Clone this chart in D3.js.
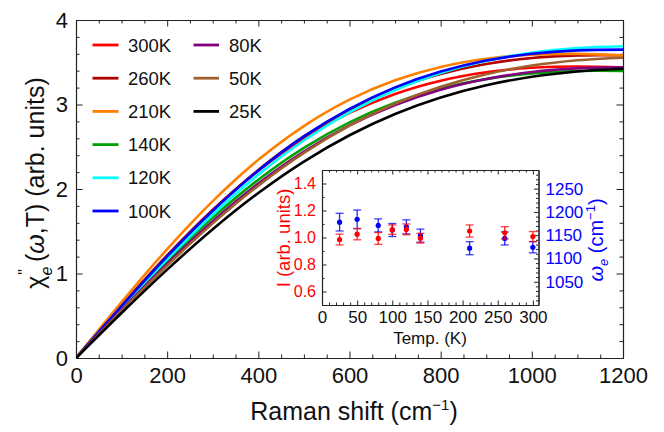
<!DOCTYPE html>
<html>
<head>
<meta charset="utf-8">
<script src="https://cdn.jsdelivr.net/npm/d3@7"></script>
<style>
  html, body { margin: 0; padding: 0; background: #fff; }
  svg { display: block; }
  text { font-family: "Liberation Sans", Arial, Helvetica, sans-serif; }
</style>
</head>
<body>
<svg id="chart" width="664" height="432"></svg>
<script>
// ---------------- DATA ----------------
const ramanShift = [0, 100, 200, 300, 400, 500, 600, 700, 800, 900, 1000, 1100, 1200];

const chi300K = [0, 0.622, 1.214, 1.752, 2.216, 2.599, 2.901, 3.125, 3.282, 3.382, 3.435, 3.450, 3.437];
const chi260K = [0, 0.619, 1.210, 1.751, 2.225, 2.622, 2.940, 3.185, 3.361, 3.480, 3.550, 3.581, 3.582];
const chi210K = [0, 0.661, 1.289, 1.857, 2.345, 2.745, 3.057, 3.286, 3.444, 3.541, 3.590, 3.599, 3.580];
const chi140K = [0, 0.587, 1.148, 1.661, 2.110, 2.487, 2.789, 3.020, 3.188, 3.300, 3.367, 3.397, 3.397];
const chi120K = [0, 0.596, 1.169, 1.699, 2.170, 2.574, 2.908, 3.172, 3.373, 3.517, 3.612, 3.667, 3.689];
const chi100K = [0, 0.614, 1.203, 1.743, 2.220, 2.623, 2.949, 3.203, 3.390, 3.520, 3.600, 3.641, 3.650];
const chi80K  = [0, 0.569, 1.116, 1.619, 2.064, 2.443, 2.752, 2.994, 3.175, 3.302, 3.384, 3.427, 3.440];
const chi50K  = [0, 0.557, 1.094, 1.593, 2.040, 2.427, 2.750, 3.010, 3.211, 3.359, 3.461, 3.524, 3.554];
const chi25K  = [0, 0.533, 1.046, 1.524, 1.953, 2.325, 2.636, 2.888, 3.083, 3.228, 3.328, 3.391, 3.423];

const seriesLabels = ["300K", "260K", "210K", "140K", "120K", "100K", "80K", "50K", "25K"];
const seriesValues = [chi300K, chi260K, chi210K, chi140K, chi120K, chi100K, chi80K, chi50K, chi25K];

const xTicks = [0, 200, 400, 600, 800, 1000, 1200];
const yTicks = [0, 1, 2, 3, 4];

// inset data
const insetTemp = [25, 50, 80, 100, 120, 140, 210, 260, 300];
const insetIntensity = [0.985, 1.025, 0.993, 1.058, 1.060, 0.995, 1.048, 1.035, 1.007];
const insetIntensityErr = [0.040, 0.042, 0.044, 0.035, 0.040, 0.036, 0.045, 0.045, 0.037];
const insetOmega = [1178, 1184, 1171, 1161, 1168, 1149, 1122, 1143, 1124];
const insetOmegaErr = [19, 20, 14, 14, 15, 14, 14, 14, 12];

const insetXTicks = [0, 50, 100, 150, 200, 250, 300];
const insetLeftTicks = [0.6, 0.8, 1.0, 1.2, 1.4];
const insetRightTicks = [1050, 1100, 1150, 1200, 1250];

// ---------------- STYLE ----------------
const colors = ["#ff0000", "#b00000", "#ff8000", "#00a000", "#00ffff", "#0000ff", "#800080", "#a0602e", "#000000"];
const axisColor = "#222";

const svg = d3.select("#chart");

// ---------------- MAIN PLOT ----------------
const x = d3.scaleLinear().domain([0, 1200]).range([76, 623]);
const y = d3.scaleLinear().domain([0, 4]).range([358, 20]);

function styleAxis(g) {
  g.selectAll("path.domain").attr("stroke", axisColor).attr("stroke-width", 1.1);
  g.selectAll(".tick line").attr("stroke", axisColor).attr("stroke-width", 1);
  g.selectAll(".tick text").attr("fill", "#111").style("font-family", '"Liberation Sans", Arial, sans-serif');
}

// minor ticks
const xMinor = d3.range(0, 1201, 50).filter(v => v % 200 !== 0);
const yMinor = d3.range(0, 4.001, 0.2).map(v => +v.toFixed(2)).filter(v => Math.abs(v - Math.round(v)) > 1e-6);

svg.append("g").attr("transform", "translate(0,358)")
  .call(d3.axisBottom(x).tickValues(xMinor).tickSize(-3.5).tickFormat("").tickSizeOuter(0)).call(styleAxis);
svg.append("g").attr("transform", "translate(0,20)")
  .call(d3.axisTop(x).tickValues(xMinor).tickSize(-3.5).tickFormat("").tickSizeOuter(0)).call(styleAxis);
svg.append("g").attr("transform", "translate(76,0)")
  .call(d3.axisLeft(y).tickValues(yMinor).tickSize(-3.5).tickFormat("").tickSizeOuter(0)).call(styleAxis);
svg.append("g").attr("transform", "translate(623,0)")
  .call(d3.axisRight(y).tickValues(yMinor).tickSize(-3.5).tickFormat("").tickSizeOuter(0)).call(styleAxis);

const gx = svg.append("g").attr("transform", "translate(0,358)")
  .call(d3.axisBottom(x).tickValues(xTicks).tickSize(-6.5).tickSizeOuter(0).tickPadding(9).tickFormat(d3.format("d")))
  .call(styleAxis);
gx.selectAll(".tick text").attr("font-size", 22).attr("dy", "0.71em");
svg.append("g").attr("transform", "translate(0,20)")
  .call(d3.axisTop(x).tickValues(xTicks).tickSize(-6.5).tickSizeOuter(0).tickFormat("")).call(styleAxis);

const gy = svg.append("g").attr("transform", "translate(76,0)")
  .call(d3.axisLeft(y).tickValues(yTicks).tickSize(-6.5).tickSizeOuter(0).tickPadding(8).tickFormat(d3.format("d")))
  .call(styleAxis);
gy.selectAll(".tick text").attr("font-size", 22);
svg.append("g").attr("transform", "translate(623,0)")
  .call(d3.axisRight(y).tickValues(yTicks).tickSize(-6.5).tickSizeOuter(0).tickFormat("")).call(styleAxis);

// curves
const line = d3.line()
  .x((d, i) => x(ramanShift[i]))
  .y(d => y(d))
  .curve(d3.curveCatmullRom.alpha(0.5));

svg.append("clipPath").attr("id", "plotclip")
  .append("rect").attr("x", 76).attr("y", 20).attr("width", 547).attr("height", 338);

svg.append("g").attr("clip-path", "url(#plotclip)")
  .selectAll("path.curve")
  .data(seriesValues)
  .join("path")
  .attr("class", "curve")
  .attr("d", d => line(d))
  .attr("fill", "none")
  .attr("stroke", (d, i) => colors[i])
  .attr("stroke-width", 2.6);

// axis titles
svg.append("text")
  .attr("x", 354).attr("y", 420)
  .attr("text-anchor", "middle").attr("font-size", 25).attr("fill", "#111")
  .call(t => {
    t.append("tspan").text("Raman shift (cm");
    t.append("tspan").attr("dy", -10).attr("font-size", 15).text("\u22121");
    t.append("tspan").attr("dy", 10).text(")");
  });

svg.append("text")
  .attr("transform", "translate(44,183) rotate(-90)")
  .attr("text-anchor", "middle").attr("font-size", 25).attr("fill", "#111")
  .call(t => {
    t.append("tspan").text("\u03c7");
    t.append("tspan").attr("dy", 8).attr("font-size", 16).attr("font-style", "italic").text("e");
    t.append("tspan").attr("dx", -8).attr("dy", -22).attr("font-size", 16).text("\"");
    t.append("tspan").attr("dy", 14).text(" (");
    t.append("tspan").attr("font-style", "italic").text("\u03c9");
    t.append("tspan").text(",T) (arb. units)");
  });

// legend
const legendPos = seriesLabels.map((s, i) => i < 6 ? { col: 0, row: i } : { col: 1, row: i - 6 });
const legend = svg.append("g");
legend.selectAll("line")
  .data(seriesLabels)
  .join("line")
  .attr("x1", (d, i) => legendPos[i].col === 0 ? 92.5 : 193.5)
  .attr("x2", (d, i) => legendPos[i].col === 0 ? 118.5 : 219)
  .attr("y1", (d, i) => 45 + legendPos[i].row * 33.2)
  .attr("y2", (d, i) => 45 + legendPos[i].row * 33.2)
  .attr("stroke", (d, i) => colors[i])
  .attr("stroke-width", 2.8);
legend.selectAll("text")
  .data(seriesLabels)
  .join("text")
  .attr("x", (d, i) => legendPos[i].col === 0 ? 128 : 229)
  .attr("y", (d, i) => 45 + legendPos[i].row * 33.2)
  .attr("dy", "0.36em")
  .attr("font-size", 18.5).attr("fill", "#111")
  .text(d => d);

// ---------------- INSET ----------------
const xi = d3.scaleLinear().domain([0, 308]).range([322, 538.5]);
const yl = d3.scaleLinear().domain([0.5, 1.5]).range([305, 170]);
const yr = d3.scaleLinear().domain([1000, 1290]).range([305, 170]);

svg.append("rect").attr("x", 322).attr("y", 170).attr("width", 216.5).attr("height", 135).attr("fill", "#fff");

const iXMinor = d3.range(0, 308, 10).filter(v => v % 50 !== 0);
const iLMinor = d3.range(0.5, 1.501, 0.1).map(v => +v.toFixed(2)).filter(v => !insetLeftTicks.includes(v));
const iRMinor = d3.range(1000, 1291, 10).filter(v => v % 50 !== 0);

svg.append("g").attr("transform", "translate(0,305)")
  .call(d3.axisBottom(xi).tickValues(iXMinor).tickSize(-2.5).tickFormat("").tickSizeOuter(0)).call(styleAxis);
svg.append("g").attr("transform", "translate(0,170)")
  .call(d3.axisTop(xi).tickValues(iXMinor).tickSize(-2.5).tickFormat("").tickSizeOuter(0)).call(styleAxis);
svg.append("g").attr("transform", "translate(322,0)")
  .call(d3.axisLeft(yl).tickValues(iLMinor).tickSize(-2.5).tickFormat("").tickSizeOuter(0)).call(styleAxis);
svg.append("g").attr("transform", "translate(538.5,0)")
  .call(d3.axisRight(yr).tickValues(iRMinor).tickSize(-2.5).tickFormat("").tickSizeOuter(0)).call(styleAxis);

const gix = svg.append("g").attr("transform", "translate(0,305)")
  .call(d3.axisBottom(xi).tickValues(insetXTicks).tickSize(-4.5).tickSizeOuter(0).tickPadding(6).tickFormat(d3.format("d")))
  .call(styleAxis);
gix.selectAll(".tick text").attr("font-size", 17).attr("dy", "0.71em");
svg.append("g").attr("transform", "translate(0,170)")
  .call(d3.axisTop(xi).tickValues(insetXTicks).tickSize(-4.5).tickSizeOuter(0).tickFormat("")).call(styleAxis);

const gil = svg.append("g").attr("transform", "translate(322,0)")
  .call(d3.axisLeft(yl).tickValues(insetLeftTicks).tickSize(-4.5).tickSizeOuter(0).tickPadding(6).tickFormat(d3.format(".1f")))
  .call(styleAxis);
gil.selectAll(".tick text").attr("font-size", 16).attr("fill", "#ff0000");

const gir = svg.append("g").attr("transform", "translate(538.5,0)")
  .call(d3.axisRight(yr).tickValues(insetRightTicks).tickSize(-4.5).tickSizeOuter(0).tickPadding(7).tickFormat(d3.format("d")))
  .call(styleAxis);
gir.selectAll(".tick text").attr("font-size", 17).attr("fill", "#0000ff");

// inset error bars and points
function drawErr(vals, errs, scale, color) {
  const g = svg.append("g");
  insetTemp.forEach((t, i) => {
    const cx = xi(t), y1 = scale(vals[i] - errs[i]), y2 = scale(vals[i] + errs[i]);
    g.append("line").attr("x1", cx).attr("x2", cx).attr("y1", y1).attr("y2", y2)
      .attr("stroke", color).attr("stroke-width", 1.3).attr("opacity", 0.85);
    [y1, y2].forEach(yy => g.append("line").attr("x1", cx - 4).attr("x2", cx + 4).attr("y1", yy).attr("y2", yy)
      .attr("stroke", color).attr("stroke-width", 1.3).attr("opacity", 0.75));
  });
  g.selectAll("circle").data(vals).join("circle")
    .attr("cx", (d, i) => xi(insetTemp[i]))
    .attr("cy", d => scale(d))
    .attr("r", 2.6)
    .attr("fill", color);
}
drawErr(insetOmega, insetOmegaErr, yr, "#0000ff");
drawErr(insetIntensity, insetIntensityErr, yl, "#ff0000");

svg.append("text")
  .attr("x", 430).attr("y", 344)
  .attr("text-anchor", "middle").attr("font-size", 17).attr("fill", "#111")
  .text("Temp. (K)");

svg.append("text")
  .attr("transform", "translate(290,238) rotate(-90)")
  .attr("text-anchor", "middle").attr("font-size", 18.5).attr("fill", "#ff0000")
  .text("I (arb. units)");

svg.append("text")
  .attr("transform", "translate(603,240) rotate(-90)")
  .attr("text-anchor", "middle").attr("font-size", 20).attr("fill", "#0000ff")
  .call(t => {
    t.append("tspan").attr("font-style", "italic").text("\u03c9");
    t.append("tspan").attr("dy", 5).attr("font-size", 13).attr("font-style", "italic").text("e");
    t.append("tspan").attr("dy", -5).text(" (cm");
    t.append("tspan").attr("dy", -8).attr("font-size", 13).text("\u22121");
    t.append("tspan").attr("dy", 8).text(")");
  });
</script>
</body>
</html>
